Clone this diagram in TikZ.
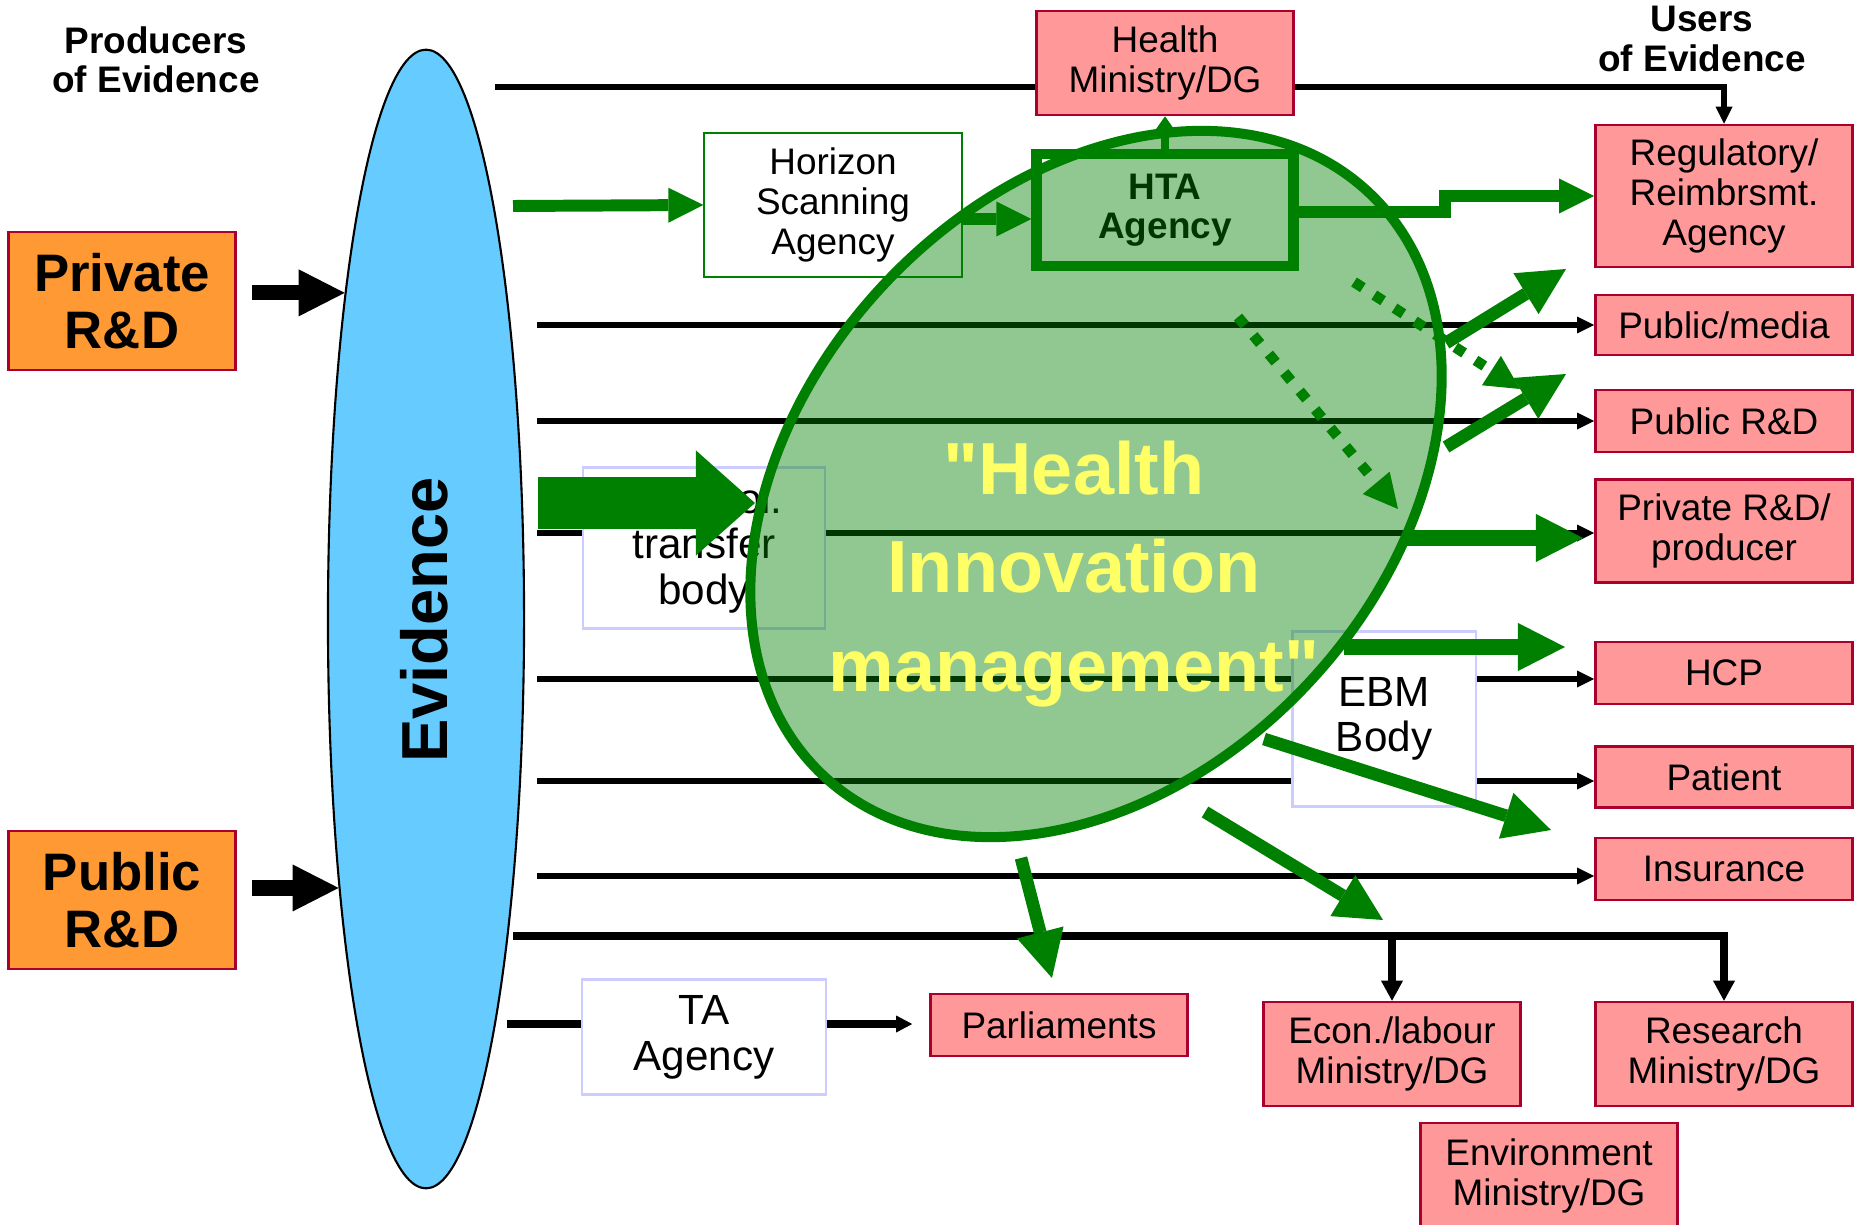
\documentclass[tikz,border=0pt]{standalone}
\usepackage{fontspec}
\setmainfont{Liberation Sans}
\newfontfamily\himfont{Liberation Sans}
\usepackage{tikz}
\usetikzlibrary{arrows.meta,shapes.geometric}

\definecolor{hgreen}{RGB}{0,128,0}
\definecolor{userpink}{RGB}{255,153,153}
\definecolor{boxred}{RGB}{170,0,45}
\definecolor{rdorange}{RGB}{255,153,51}
\definecolor{evblue}{RGB}{102,204,255}
\definecolor{lavender}{RGB}{204,204,255}
\definecolor{himyellow}{RGB}{255,255,102}

\begin{document}
\begin{tikzpicture}[x=0.01cm,y=-0.01cm]

\tikzset{
  heading/.style={align=center, inner sep=0pt,
    font=\fontsize{10.5}{11.1}\selectfont\bfseries},
  rdbox/.style={draw=boxred, fill=rdorange, line width=0.7pt, inner sep=0pt,
    align=center, minimum width=2.27cm, minimum height=1.38cm,
    font=\fontsize{15}{16.3}\selectfont\bfseries},
  evidence/.style={ellipse, draw, line width=0.6pt, fill=evblue, inner sep=0pt,
    minimum width=1.96cm, minimum height=11.38cm},
  evlabel/.style={rotate=90, inner sep=0pt,
    font=\fontsize{18.5}{20}\selectfont\bfseries},
  bodybox/.style={draw=lavender, fill=white, line width=0.6pt, inner sep=0pt,
    align=center, font=\fontsize{12}{13}\selectfont},
  horizonbox/.style={bodybox, draw=hgreen, font=\fontsize{10.5}{11.5}\selectfont},
  htabox/.style={draw=hgreen, fill=white, line width=3.1pt, inner sep=0pt,
    align=center, minimum width=2.56cm, minimum height=1.12cm,
    font=\fontsize{10.5}{11.1}\selectfont\bfseries},
  userbox/.style={draw=boxred, fill=userpink, line width=0.7pt, inner sep=0pt,
    align=center, minimum width=2.57cm, font=\fontsize{10.5}{11.3}\selectfont},
  him/.style={ellipse, draw=hgreen, line width=2.85pt, fill=hgreen,
    fill opacity=0.43, inner sep=0pt, rotate=47,
    minimum width=7.98cm, minimum height=5.82cm},
  himtext/.style={align=center, inner sep=0pt, text=himyellow,
    font=\himfont\fontsize{21}{28}\selectfont\bfseries},
  evline/.style={line width=1.6pt},
  evarrow/.style={evline, -{Triangle[length=1.7mm,width=1.7mm,line width=0pt]}},
  busline/.style={line width=2.1pt},
  busarrow/.style={busline, -{Triangle[length=2mm,width=2.2mm,line width=0pt]}},
  taarrow/.style={busline, -{Triangle[length=1.6mm,width=1.7mm,line width=0pt]}},
  blockarrow/.style={line width=4.3pt, -{Triangle[length=4.6mm,width=4.7mm,line width=0pt]}},
  greenarrow/.style={draw=hgreen, line width=3.4pt,
    -{Triangle[length=3.5mm,width=3.5mm,line width=0pt]}},
  htaarrow/.style={draw=hgreen, line width=2.5pt,
    -{Triangle[length=1.5mm,width=2.1mm,line width=0pt]}},
  bigarrow/.style={draw=hgreen, line width=3.6pt,
    -{Triangle[length=4.7mm,width=4.8mm,line width=0pt]}},
  fatarrow/.style={draw=hgreen, line width=15pt,
    -{Triangle[length=5.9mm,width=10.5mm,line width=0pt]}},
  dotarrow/.style={draw=hgreen, line width=3pt, dash pattern=on 3pt off 3.85pt,
    -{Triangle[length=3.4mm,width=3.5mm,line width=0pt]}}
}

\path[use as bounding box, fill=white] (0,0) rectangle (1864,1225);

% producers of evidence
\node[heading] (producers) at (156,60) {Producers\\of Evidence};
\node[rdbox] (privrd) at (122,301) {Private\\R\&D};
\node[rdbox] (pubrd) at (122,900) {Public\\R\&D};
\node[evidence] (evidence) at (426,619) {};
\node[evlabel] (evtext) at (424,620) {Evidence};

\draw[blockarrow] ([xshift=0.15cm]privrd.east |- evidence.104) -- (evidence.104);
\draw[blockarrow] ([xshift=0.15cm]pubrd.east |- evidence.252) -- (evidence.252);

% bodies in between
\node[horizonbox, minimum width=2.57cm, minimum height=1.44cm] (horizon) at (833,205) {Horizon\\Scanning\\Agency};
\node[htabox] (hta) at (1165,210) {HTA\\Agency};
\node[bodybox, minimum width=2.42cm, minimum height=1.61cm] (technol) at (704,548) {Technol.\\transfer\\body};
\node[bodybox, minimum width=1.83cm, minimum height=1.75cm] (ebm) at (1384,719) {EBM\\Body};
\node[bodybox, minimum width=2.43cm, minimum height=1.15cm] (ta) at (704,1037) {TA\\Agency};

% users of evidence
\node[heading] (users) at (1702,39) {Users\\of Evidence};
\node[userbox, minimum height=1.04cm] (health) at (1165,63) {Health\\Ministry/DG};
\node[userbox, minimum height=1.42cm] (reg) at (1724,196) {Regulatory/\\Reimbrsmt.\\Agency};
\node[userbox, minimum height=0.60cm] (media) at (1724,325) {Public/media};
\node[userbox, minimum height=0.62cm] (pubuser) at (1724,421) {Public R\&D};
\node[userbox, minimum height=1.03cm] (producer) at (1724,531) {Private R\&D/\\producer};
\node[userbox, minimum height=0.62cm] (hcp) at (1724,673) {HCP};
\node[userbox, minimum height=0.61cm] (patient) at (1724,777) {Patient};
\node[userbox, minimum height=0.62cm] (insurance) at (1724,869) {Insurance};
\node[userbox, minimum height=0.62cm] (parl) at (1059,1025) {Parliaments};
\node[userbox, minimum height=1.04cm] (econ) at (1392,1054) {Econ./labour\\Ministry/DG};
\node[userbox, minimum height=1.04cm] (research) at (1724,1054) {Research\\Ministry/DG};
\node[userbox, minimum height=1.06cm] (environment) at (1549,1176) {Environment\\Ministry/DG};

% evidence lines towards the users
\coordinate (topstart) at (495,87);
\coordinate (hsstart) at (513,206);
\coordinate (mediastart) at (537,325);
\coordinate (pubstart) at (537,421);
\coordinate (prodstart) at (537,533);
\coordinate (hcpstart) at (537,679);
\coordinate (patstart) at (537,781);
\coordinate (insstart) at (537,876);
\coordinate (busstart) at (513,936);
\coordinate (tastart) at (507,1024);

\draw[evline] (topstart) -- (topstart -| health.west);
\draw[evarrow] (topstart -| health.east) -| (reg.north);
\draw[evarrow] (mediastart) -- (mediastart -| media.west);
\draw[evarrow] (pubstart) -- (pubstart -| pubuser.west);
\draw[evline] (prodstart) -- (prodstart -| technol.west);
\draw[evarrow] (prodstart -| technol.east) -- (prodstart -| producer.west);
\draw[evline] (hcpstart) -- (hcpstart -| ebm.west);
\draw[evarrow] (hcpstart -| ebm.east) -- (hcpstart -| hcp.west);
\draw[evline] (patstart) -- (patstart -| ebm.west);
\draw[evarrow] (patstart -| ebm.east) -- (patstart -| patient.west);
\draw[evarrow] (insstart) -- (insstart -| insurance.west);
\draw[busarrow] (busstart) -| (research.north);
\draw[busarrow] (busstart -| econ.north) -- (econ.north);
\draw[busline] (tastart) -- (tastart -| ta.west);
\draw[taarrow, shorten >=0.17cm] (tastart -| ta.east) -- (tastart -| parl.west);

% "Health Innovation management"
\node[him] (him) at (1096,484) {};

\coordinate (fatstart) at (538,503);  \coordinate (fatend) at (755,503);
\coordinate (regout) at (1446,343);   \coordinate (regend) at (1566,269);
\coordinate (pubout) at (1446,447);   \coordinate (pubend) at (1566,374);
\coordinate (prodout) at (1403,538);  \coordinate (prodend) at (1583,538);
\coordinate (hcpout) at (1344,647);   \coordinate (hcpend) at (1565,647);
\coordinate (patout) at (1264,739);   \coordinate (patend) at (1551,830);
\coordinate (insout) at (1205,812);   \coordinate (insend) at (1383,920);
\coordinate (parlout) at (1021,858);  \coordinate (parlend) at (1052,978);
\coordinate (dotastart) at (1354,282); \coordinate (dotaend) at (1520,389);
\coordinate (dotbstart) at (1238,317); \coordinate (dotbend) at (1398,509);

\draw[greenarrow] (hsstart) -- (horizon.west);
\draw[greenarrow] ([yshift=-0.14cm]horizon.east) -- ([yshift=-0.09cm]hta.west);
\draw[greenarrow] ([yshift=-0.02cm]hta.east) -- ++(146,0) |- (reg.west);
\draw[htaarrow] (hta.north) -- (health.south);
\draw[fatarrow] (fatstart) -- (fatend);
\draw[bigarrow] (regout) -- (regend);
\draw[bigarrow] (pubout) -- (pubend);
\draw[bigarrow, line width=4.5pt] (prodout) -- (prodend);
\draw[bigarrow, line width=4.5pt] (hcpout) -- (hcpend);
\draw[bigarrow] (patout) -- (patend);
\draw[bigarrow] (insout) -- (insend);
\draw[bigarrow] (parlout) -- (parlend);
\draw[dotarrow] (dotastart) -- (dotaend);
\draw[dotarrow] (dotbstart) -- (dotbend);

\node[himtext] (himlabel) at (1074,574) {"Health\\Innovation\\management"};

\end{tikzpicture}
\end{document}
